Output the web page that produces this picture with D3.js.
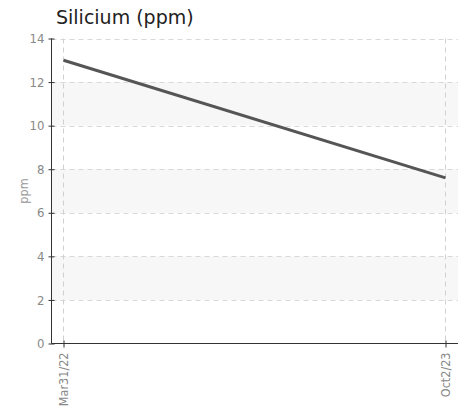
<!DOCTYPE html>
<html><head><meta charset="utf-8">
<script src="https://cdn.jsdelivr.net/npm/d3@7"></script>
<style>
body{margin:0;background:#fff;}
.tick text{font-family:"Liberation Sans Narrow","DejaVu Sans Condensed","Roboto",sans-serif;}
</style>
</head><body>
<svg id="chart" width="466" height="408"></svg>
<script>
const title = "Silicium (ppm)";
const yLabel = "ppm";
const dates = ["2022-03-31", "2023-10-02"];
const dateLabels = ["Mar31/22", "Oct2/23"];
const values = [13.0, 7.6];
const yTicks = [0, 2, 4, 6, 8, 10, 12, 14];

const parse = d3.timeParse("%Y-%m-%d");
const data = dates.map((d, i) => ({date: parse(d), value: values[i], label: dateLabels[i]}));

const svg = d3.select("#chart");
const plotLeft = 51.5, plotRight = 458, plotTop = 38.5, plotBottom = 343.5;

const x = d3.scaleTime().domain([data[0].date, data[1].date]).range([63.5, 445.5]);
const y = d3.scaleLinear().domain([0, 14]).range([plotBottom, plotTop]);

// bands
const bands = [[2,4],[6,8],[10,12]];
svg.append("g").selectAll("rect").data(bands).join("rect")
  .attr("x", plotLeft).attr("width", plotRight - plotLeft)
  .attr("y", d => y(d[1])).attr("height", d => y(d[0]) - y(d[1]))
  .attr("fill", "#f7f7f7");

// horizontal grid
svg.append("g").selectAll("line").data(yTicks.filter(t => t > 0)).join("line")
  .attr("x1", plotLeft).attr("x2", plotRight)
  .attr("y1", d => Math.round(y(d)) + 0.5).attr("y2", d => Math.round(y(d)) + 0.5)
  .attr("stroke", "#d8d8d8").attr("stroke-dasharray", "5,4");

// vertical grid
svg.append("g").selectAll("line").data(data).join("line")
  .attr("x1", d => x(d.date)).attr("x2", d => x(d.date))
  .attr("y1", plotTop).attr("y2", plotBottom)
  .attr("stroke", "#d0d0d0").attr("stroke-dasharray", "5,4");

// y axis
const yAxis = svg.append("g").attr("transform", `translate(${plotLeft},0)`)
  .call(d3.axisLeft(y).tickValues(yTicks).tickSize(3).tickPadding(4).tickFormat(d3.format("d")));
yAxis.select(".domain").attr("stroke", "#333").attr("d", `M0,${plotTop}V${plotBottom}`);
yAxis.selectAll(".tick line").attr("x2", 3).attr("x1", -3).attr("stroke", "#333");
yAxis.selectAll(".tick text").attr("fill", "#888").attr("font-size", 13);

// x axis
const xAxis = svg.append("g").attr("transform", `translate(0,${plotBottom})`)
  .call(d3.axisBottom(x).tickValues(data.map(d => d.date)).tickSize(4)
    .tickFormat((d, i) => dateLabels[i]));
xAxis.select(".domain").attr("stroke", "#333").attr("d", `M${plotLeft},0H${plotRight}`);
xAxis.selectAll(".tick line").attr("y1", -3).attr("y2", 4).attr("stroke", "#333");
xAxis.selectAll(".tick text").attr("fill", "#888").attr("font-size", 12.5)
  .attr("transform", "rotate(-90)").attr("text-anchor", "end")
  .attr("x", -9).attr("y", 0).attr("dy", "0.35em");

// line
svg.append("path").datum(data)
  .attr("fill", "none").attr("stroke", "#555").attr("stroke-width", 3)
  .attr("d", d3.line().x(d => x(d.date)).y(d => y(d.value)));

// title
svg.append("text").attr("x", 56).attr("y", 24)
  .attr("font-family", "DejaVu Sans, Verdana, sans-serif").attr("font-size", 19)
  .attr("fill", "#222").text(title);

// y label
svg.append("text").attr("transform", `translate(28,${(plotTop+plotBottom)/2}) rotate(-90)`)
  .attr("text-anchor", "middle")
  .attr("font-family", "Liberation Sans Narrow, DejaVu Sans Condensed, sans-serif")
  .attr("font-size", 12.5).attr("fill", "#999").text(yLabel);
</script>
</body></html>
